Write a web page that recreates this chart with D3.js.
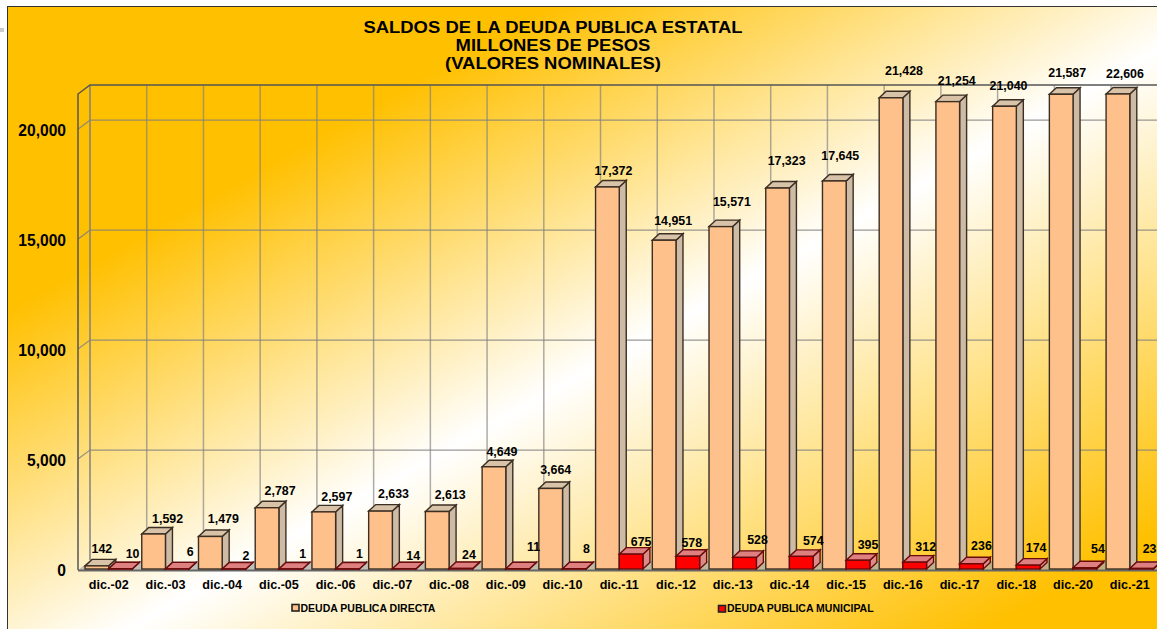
<!DOCTYPE html>
<html>
<head>
<meta charset="utf-8">
<title>Saldos de la deuda publica estatal</title>
<script src="https://cdnjs.cloudflare.com/ajax/libs/d3/7.8.5/d3.min.js"></script>
<style>
  html, body { margin: 0; padding: 0; background: #fff; overflow: hidden; }
  svg { display: block; }
  text { font-family: "Liberation Sans", Arial, sans-serif; font-weight: bold; fill: #000; }
</style>
</head>
<body>
<div id="graphique"></div>
<script>
const categorias = ['dic.-02', 'dic.-03', 'dic.-04', 'dic.-05', 'dic.-06', 'dic.-07', 'dic.-08', 'dic.-09', 'dic.-10', 'dic.-11',
  'dic.-12', 'dic.-13', 'dic.-14', 'dic.-15', 'dic.-16', 'dic.-17', 'dic.-18', 'dic.-20', 'dic.-21']
const directa = [142, 1592, 1479, 2787, 2597, 2633, 2613, 4649, 3664, 17372, 14951, 15571, 17323, 17645, 21428, 21254, 21040, 21587, 22606]
const municipal = [10, 6, 2, 1, 1, 14, 24, 11, 8, 675, 578, 528, 574, 395, 312, 236, 174, 54, 23]
const ticks = [0, 5000, 10000, 15000, 20000]
const titulo = ['SALDOS DE LA DEUDA PUBLICA ESTATAL', 'MILLONES DE PESOS', '(VALORES NOMINALES)']
const nombres = ['DEUDA PUBLICA DIRECTA', 'DEUDA PUBLICA MUNICIPAL']

const width = 1157, height = 629
// depth of the fake 3d box and of each bar
const wall = { dx: 12, dy: -9 }, bar = { dx: 7, dy: -6.5 }

const svg = d3.select('#graphique').append('svg')
  .attr('width', width).attr('height', height)

// diagonal background
const grad = svg.append('defs').append('linearGradient')
  .attr('id', 'fondo').attr('x1', 0).attr('y1', 0).attr('x2', 1).attr('y2', 1)
grad.append('stop').attr('offset', 0.22).attr('stop-color', '#FFC000')
grad.append('stop').attr('offset', 0.5).attr('stop-color', '#FFFFFF')
grad.append('stop').attr('offset', 0.85).attr('stop-color', '#FFC000')

svg.append('rect').attr('x', 0).attr('y', 28).attr('width', 4).attr('height', 4).attr('fill', '#ccc')
svg.append('rect').attr('x', 7.5).attr('y', 6.5).attr('width', 1230).attr('height', 690)
  .attr('fill', 'url(#fondo)').attr('stroke', '#333').attr('stroke-width', 1)

// scales
const x = d3.scaleBand().domain(categorias).range([80.5, 1158]).paddingInner(0.165).paddingOuter(0.08)
const serie = d3.scaleBand().domain([0, 1]).range([0, x.bandwidth()])
const y = d3.scaleLinear().domain([0, 21600]).range([569, 94]).clamp(true)

const y0 = y(0), left = 78
const grid = svg.append('g').attr('fill', 'none')

// floor
grid.append('path')
  .attr('d', `M${left},${y0 + 1}L${left + wall.dx},${y0 + 1 + wall.dy}H${width}V${y0 + 1}Z`)
  .attr('fill', '#a9a9a9').attr('fill-opacity', 0.75)

// horizontal grid on the back wall
ticks.slice(1).forEach(t => {
  grid.append('path')
    .attr('d', `M${left},${y(t)}L${left + wall.dx},${y(t) + wall.dy}H${width}`)
    .attr('stroke', '#808080').attr('stroke-opacity', 0.8).attr('stroke-width', 1.3)
})

// vertical grid on the back wall
const paso = x.step()
categorias.forEach((c, i) => {
  const gx = left + wall.dx + paso * i
  grid.append('line')
    .attr('x1', gx).attr('x2', gx)
    .attr('y1', y(21600) + wall.dy).attr('y2', y0 + wall.dy)
    .attr('stroke', '#808080').attr('stroke-opacity', i == 0 ? 1 : 0.65).attr('stroke-width', 1.5)
})

// top of the box and left wall
grid.append('path')
  .attr('d', `M${left},${y0 + 1}V${y(21600)}L${left + wall.dx},${y(21600) + wall.dy}H${width}`)
  .attr('stroke', '#555').attr('stroke-width', 1.5)
grid.append('line')
  .attr('x1', left).attr('x2', width).attr('y1', y0 + 1.5).attr('y2', y0 + 1.5)
  .attr('stroke', '#666').attr('stroke-width', 2)

// bars
const estilos = [
  { frente: '#FFC18C', lado: '#CDBBA6', arriba: '#D9C3A8', linea: '#3B2E22' },
  { frente: '#FF0000', lado: '#D98C88', arriba: '#DF8080', linea: '#6B0A0A' }
]

function barra(g, bx, v, s) {
  const w = serie.bandwidth(), top = y(v)
  g.append('path').attr('fill', s.lado).attr('stroke', s.linea).attr('stroke-width', 1.4)
    .attr('d', `M${bx + w},${y0}V${top}l${bar.dx},${bar.dy}V${y0 + bar.dy}Z`)
  g.append('path').attr('fill', s.arriba).attr('stroke', s.linea).attr('stroke-width', 1.4)
    .attr('d', `M${bx},${top}l${bar.dx},${bar.dy}h${w}l${-bar.dx},${-bar.dy}Z`)
  g.append('rect').attr('x', bx).attr('y', top).attr('width', w).attr('height', y0 - top)
    .attr('fill', s.frente).attr('stroke', s.linea).attr('stroke-width', 1.4)
}

const barras = svg.append('g')
categorias.forEach((c, i) => {
  const g = barras.append('g')
  barra(g, x(c) + serie(0), directa[i], estilos[0])
  barra(g, x(c) + serie(1), municipal[i], estilos[1])
})

// value labels, most were moved by hand in the original
const mover = {
  '0-0': [-8, 0], '0-1': [1, 2], '0-4': [0, 2], '0-7': [-5, 2], '0-8': [-8, -1], '0-9': [-7, 1], '0-10': [-4, -2],
  '0-11': [-2, -8], '0-12': [-4, -10], '0-13': [-7, -8], '0-14': [0, -10], '0-15': [-4, -4], '0-16': [-9, -3],
  '0-17': [-7, -4], '0-18': [-6, -3],
  '1-1': [1, -2], '1-2': [0, 2], '1-5': [-3, 2], '1-6': [-4, 2], '1-7': [4, -7], '1-8': [0, -5], '1-9': [-2, 3],
  '1-10': [-8, 2], '1-11': [1, -2], '1-13': [-2, 0], '1-14': [-1, 0], '1-15': [-2, -3], '1-16': [-4, -2],
  '1-17': [1, -4], '1-18': [-4, -4]
}
const etiquetas = svg.append('g').attr('text-anchor', 'middle').attr('font-size', 12.4)
function etiqueta(c, i, k, v) {
  const m = mover[k + '-' + i] || [0, 0]
  const w = serie.bandwidth()
  const cx = x(c) + serie(k) + w / 2 + (k == 0 ? 13 : 12) + m[0]
  const cy = y(v) + bar.dy - (k == 0 ? 11 : 9) + m[1]
  etiquetas.append('text').attr('x', cx).attr('y', cy).attr('dy', '0.36em').text(d3.format(',')(v))
}
categorias.forEach((c, i) => {
  etiqueta(c, i, 0, directa[i])
  etiqueta(c, i, 1, municipal[i])
})

// axes
const ejeY = svg.append('g').attr('transform', 'translate(66,0)')
  .call(d3.axisLeft(y).tickValues(ticks).tickFormat(d3.format(',')).tickSize(0).tickPadding(0))
ejeY.select('.domain').remove()
ejeY.selectAll('text').attr('font-size', 15.6).attr('dy', '0.4em')
ejeY.attr('font-family', null).attr('font-size', null)

const ejeX = svg.append('g').attr('transform', `translate(0,${y0 + 9.5})`)
  .call(d3.axisBottom(x).tickSize(0).tickPadding(0))
ejeX.select('.domain').remove()
ejeX.selectAll('text').attr('font-size', 12.6).attr('dy', '0.8em')
ejeX.attr('font-family', null).attr('font-size', null)

// title, the original text is a bit wider than the font
svg.append('g').attr('text-anchor', 'middle').attr('font-size', 17)
  .attr('transform', 'translate(553,0) scale(1.086,1)')
  .selectAll('text').data(titulo).enter().append('text')
  .attr('x', 0).attr('y', (d, i) => 33 + i * 18).text(d => d)

// legend
const leyenda = [{ px: 292, s: estilos[0] }, { px: 718.5, s: estilos[1] }]
leyenda.forEach((l, i) => {
  svg.append('rect').attr('x', l.px).attr('y', 604.5 + i).attr('width', 7).attr('height', 6.5)
    .attr('fill', l.s.frente).attr('stroke', '#222').attr('stroke-width', 1.6)
  svg.append('text').attr('x', l.px + 8.5).attr('y', 611.5 + i * 0.5)
    .attr('font-size', 10.5).text(nombres[i])
})
</script>
</body>
</html>
